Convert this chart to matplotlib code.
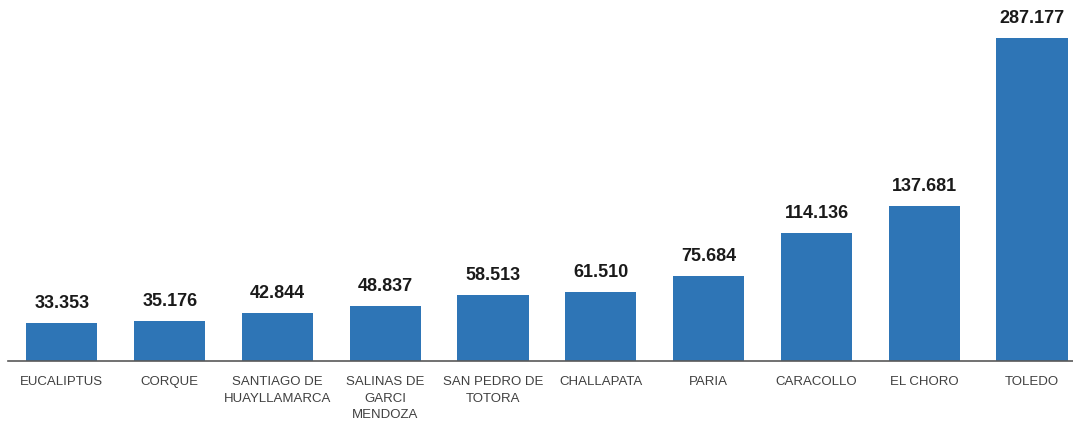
import matplotlib
matplotlib.use("Agg")
import matplotlib.pyplot as plt

categories = ["EUCALIPTUS", "CORQUE", "SANTIAGO DE\nHUAYLLAMARCA", "SALINAS DE\nGARCI\nMENDOZA",
              "SAN PEDRO DE\nTOTORA", "CHALLAPATA", "PARIA", "CARACOLLO", "EL CHORO", "TOLEDO"]
values = [33.353, 35.176, 42.844, 48.837, 58.513, 61.510, 75.684, 114.136, 137.681, 287.177]
value_labels = ["33.353", "35.176", "42.844", "48.837", "58.513", "61.510", "75.684",
                "114.136", "137.681", "287.177"]

W, H = 1073, 423
fig = plt.figure(figsize=(W / 100, H / 100), dpi=100)
ax = fig.add_axes([8 / W, (H - 361) / H, (W - 8) / W, 361 / H])

x = list(range(len(values)))
ax.bar(x, values, width=0.66, color="#2E75B6", zorder=2)

for xi, v, lab in zip(x, values, value_labels):
    ax.annotate(lab, (xi, v), xytext=(0, 8), textcoords="offset points",
                ha="center", va="bottom", fontsize=13, fontweight="bold",
                family="Liberation Sans", color="#1a1a1a")

ax.set_xlim(-0.5, 9.38)
ax.set_ylim(0, 321)
ax.set_xticks(x)
ax.set_xticklabels(categories, family="Liberation Sans", fontsize=9.5,
                   color="#404040", linespacing=1.5, va="top")
ax.tick_params(axis="x", length=0, pad=11)
ax.set_yticks([])
for s in ["top", "right", "left"]:
    ax.spines[s].set_visible(False)
ax.spines["bottom"].set_color("#595959")
ax.spines["bottom"].set_linewidth(1.2)

fig.savefig("out.png", dpi=100)
